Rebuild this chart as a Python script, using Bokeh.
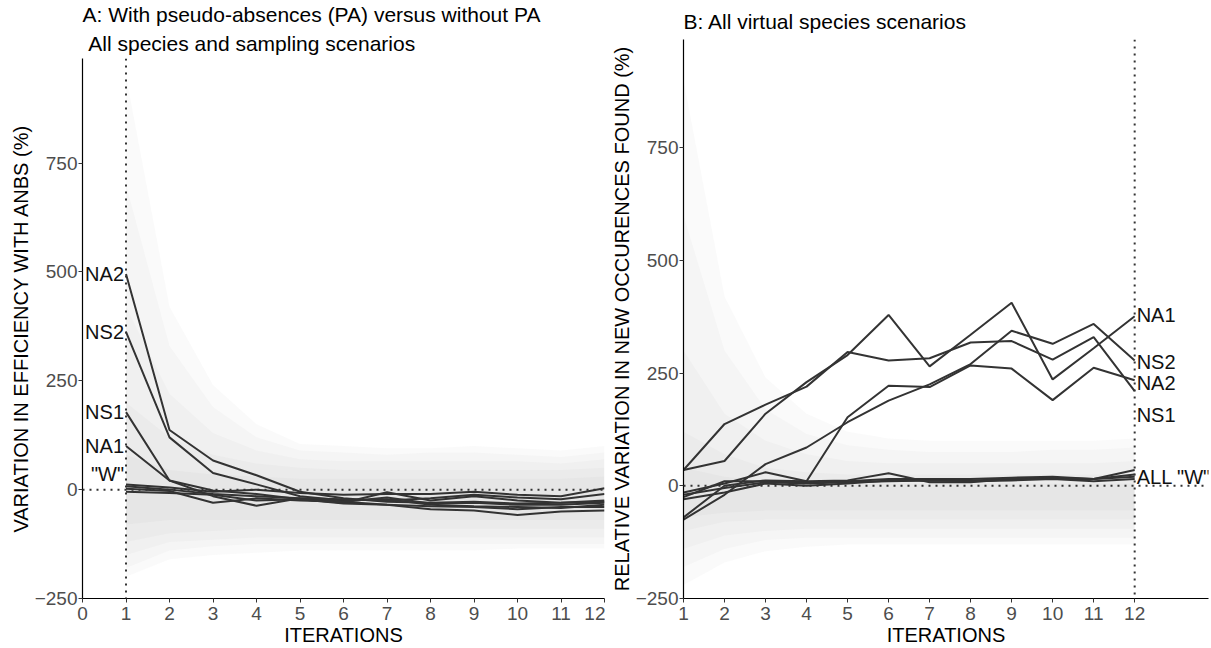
from bokeh.plotting import figure
from bokeh.layouts import row
from bokeh.models import Title, Span, FixedTicker, Range1d
from bokeh.embed import file_html
from bokeh.resources import INLINE
from bokeh.core.properties import value

# ---------------- data ----------------
ITER = list(range(1, 13))

# Panel A lines
A_NA2 = [495, 137, 67, 33, -5, -20, -28, -30, -28, -32, -30, -25]
A_NS2 = [362, 120, 38, 12, -15, -25, -22, -35, -38, -40, -42, -35]
A_NS1 = [178, 21, -15, -37, -20, -28, -35, -45, -48, -58, -50, -48]
A_NA1 = [100, 21, -2, -10, -22, -30, -6, -25, -15, -25, -30, -28]
A_W1 = [12, 5, -5, 0, -8, -12, -10, -10, -5, -12, -15, 3]
A_W2 = [8, 0, -10, -15, -20, -22, -25, -20, -12, -18, -22, -10]
A_W3 = [2, -3, -30, -20, -25, -28, -18, -32, -30, -35, -35, -30]
A_W4 = [-5, -8, -12, -25, -22, -32, -35, -38, -40, -45, -40, -40]

# Panel A ribbons (upper / lower)
A_R1_UP = [950, 420, 240, 150, 105, 100, 95, 95, 100, 95, 90, 100]
A_R1_LO = [-200, -160, -150, -145, -140, -140, -140, -140, -140, -135, -135, -135]
A_R2_UP = [700, 330, 190, 120, 90, 85, 80, 85, 85, 80, 75, 85]
A_R2_LO = [-180, -140, -130, -125, -125, -125, -125, -125, -125, -125, -125, -125]
A_R3_UP = [420, 220, 130, 90, 70, 65, 65, 65, 65, 65, 60, 70]
A_R3_LO = [-150, -120, -115, -110, -110, -110, -110, -110, -110, -110, -110, -110]
A_R4_UP = [200, 120, 80, 60, 50, 45, 45, 45, 45, 45, 45, 50]
A_R4_LO = [-120, -100, -95, -90, -90, -90, -90, -90, -90, -90, -90, -90]
A_R5_UP = [80, 45, 35, 30, 25, 25, 25, 25, 25, 25, 25, 30]
A_R5_LO = [-80, -70, -70, -70, -70, -70, -70, -70, -70, -70, -70, -70]

A_LABELS = ["NA2", "NS2", "NS1", "NA1", '"W"']
A_LABEL_Y = [495, 362, 178, 100, 36]

# Panel B lines
B_NA1 = [35, 55, 160, 230, 290, 379, 265, 335, 406, 236, 305, 376]
B_L2 = [35, 137, 180, 220, 297, 278, 283, 318, 321, 280, 330, 210]
B_NS2 = [-75, -20, 48, 85, 141, 189, 225, 270, 344, 315, 359, 278]
B_NA2 = [-70, 0, 12, 10, 152, 222, 219, 267, 260, 190, 262, 234]
B_W1 = [-15, 5, 30, 10, 12, 28, 8, 8, 15, 15, 15, 35]
B_W2 = [-25, 10, 10, 8, 10, 15, 15, 15, 18, 20, 15, 25]
B_W3 = [-30, -15, 5, 0, 5, 12, 12, 12, 15, 18, 15, 20]
B_W4 = [-20, -5, 8, 5, 8, 10, 12, 10, 12, 15, 10, 15]

# Panel B ribbons
B_R1_UP = [900, 420, 240, 160, 120, 105, 100, 100, 100, 100, 100, 105]
B_R1_LO = [-220, -170, -145, -135, -130, -130, -130, -130, -130, -130, -130, -130]
B_R2_UP = [600, 300, 170, 115, 90, 80, 75, 75, 75, 80, 80, 85]
B_R2_LO = [-180, -140, -120, -115, -115, -115, -115, -115, -115, -115, -115, -115]
B_R3_UP = [300, 160, 100, 70, 55, 50, 50, 50, 50, 50, 50, 55]
B_R3_LO = [-140, -110, -100, -95, -95, -95, -95, -95, -95, -95, -95, -95]
B_R4_UP = [120, 70, 40, 30, 25, 25, 25, 25, 25, 25, 25, 25]
B_R4_LO = [-100, -80, -75, -75, -75, -75, -75, -75, -75, -75, -75, -75]
B_R5_UP = [40, 20, 10, 5, 5, 5, 5, 5, 5, 5, 5, 5]
B_R5_LO = [-70, -60, -55, -55, -55, -55, -55, -55, -55, -55, -55, -55]

B_LABELS = ["NA1", "NS2", "NA2", "NS1", 'ALL "W"']
B_LABEL_Y = [379, 275, 228, 158, 20]

Y_TICKS = [-250, 0, 250, 500, 750]
A_X_TICKS = list(range(0, 13))
B_X_TICKS = list(range(1, 13))

FONT = "Liberation Sans"
LINE_COLOR = "#333333"


def style(p, xticks, ylabel):
    p.xgrid.visible = False
    p.ygrid.visible = False
    p.outline_line_color = None
    p.background_fill_color = "white"
    p.border_fill_color = "white"
    p.xaxis.ticker = FixedTicker(ticks=xticks)
    p.yaxis.ticker = FixedTicker(ticks=Y_TICKS)
    for ax in (p.xaxis[0], p.yaxis[0]):
        ax.axis_line_color = "black"
        ax.axis_line_width = 1.2
        ax.major_tick_line_color = "#333333"
        ax.major_tick_out = 4
        ax.major_tick_in = 0
        ax.minor_tick_line_color = None
        ax.major_label_text_font = FONT
        ax.major_label_text_font_size = "19px"
        ax.major_label_text_color = "#4d4d4d"
        ax.axis_label_text_font = FONT
        ax.axis_label_text_font_size = "20px"
        ax.axis_label_text_font_style = "normal"
        ax.axis_label_text_color = "black"
    p.xaxis.major_label_standoff = 4
    p.xaxis.axis_label_standoff = 1
    p.yaxis.major_label_standoff = 1
    p.yaxis.axis_label_standoff = 0
    p.xaxis.axis_label = "ITERATIONS"
    p.yaxis.axis_label = ylabel


def ribbons(p, pairs):
    for up, lo in pairs:
        p.varea(x=ITER, y1=lo, y2=up, fill_color="#808080", fill_alpha=0.045)


def lines(p, series):
    for s in series:
        p.line(ITER, s, line_color=LINE_COLOR, line_width=2)


TITLE_KW = dict(text_font=FONT, text_font_size="21px", text_font_style="normal",
                text_color="black", align="left")

# ---------------- Panel A ----------------
pA = figure(width=605, height=648, x_range=Range1d(0, 12), y_range=Range1d(-250, 990),
            output_backend="svg", toolbar_location=None, frame_align=False,
            min_border_left=82, min_border_right=1, min_border_bottom=50, min_border_top=4)
style(pA, A_X_TICKS, "VARIATION IN EFFICIENCY WITH ANBS (%)")
ribbons(pA, [(A_R1_UP, A_R1_LO), (A_R2_UP, A_R2_LO), (A_R3_UP, A_R3_LO),
             (A_R4_UP, A_R4_LO), (A_R5_UP, A_R5_LO)])
pA.add_layout(Span(location=0, dimension="width", line_color="#333333", line_width=2, line_dash="2 5"))
pA.add_layout(Span(location=1, dimension="height", line_color="#333333", line_width=2, line_dash="2 5"))
lines(pA, [A_NA2, A_NS2, A_NS1, A_NA1, A_W1, A_W2, A_W3, A_W4])
pA.text(x=[1] * len(A_LABELS), y=A_LABEL_Y, text=A_LABELS, text_align="right", text_baseline="middle",
        text_font=value(FONT), text_font_size="20px", text_color="#111111", x_offset=-2)
pA.add_layout(Title(text="\u00a0All species and sampling scenarios", standoff=8, **TITLE_KW), "above")
pA.add_layout(Title(text="A: With pseudo-absences (PA) versus without PA", standoff=0, **TITLE_KW), "above")

# ---------------- Panel B ----------------
pB = figure(width=606, height=648, x_range=Range1d(1, 13.8), y_range=Range1d(-250, 990),
            output_backend="svg", toolbar_location=None, frame_align=False,
            min_border_left=78, min_border_right=3, min_border_bottom=50, min_border_top=4)
style(pB, B_X_TICKS, "RELATIVE VARIATION IN NEW OCCURENCES FOUND (%)")
ribbons(pB, [(B_R1_UP, B_R1_LO), (B_R2_UP, B_R2_LO), (B_R3_UP, B_R3_LO),
             (B_R4_UP, B_R4_LO), (B_R5_UP, B_R5_LO)])
pB.add_layout(Span(location=0, dimension="width", line_color="#333333", line_width=2, line_dash="2 5"))
pB.add_layout(Span(location=12, dimension="height", line_color="#333333", line_width=2, line_dash="2 5"))
lines(pB, [B_NA1, B_L2, B_NS2, B_NA2, B_W1, B_W2, B_W3, B_W4])
pB.text(x=[12] * len(B_LABELS), y=B_LABEL_Y, text=B_LABELS, text_align="left", text_baseline="middle",
        text_font=value(FONT), text_font_size="20px", text_color="#111111", x_offset=2)
pB.add_layout(Title(text="B: All virtual species scenarios", standoff=14, **TITLE_KW), "above")

layout = row(pA, pB)
open("out.html", "w").write(file_html(layout, INLINE))
